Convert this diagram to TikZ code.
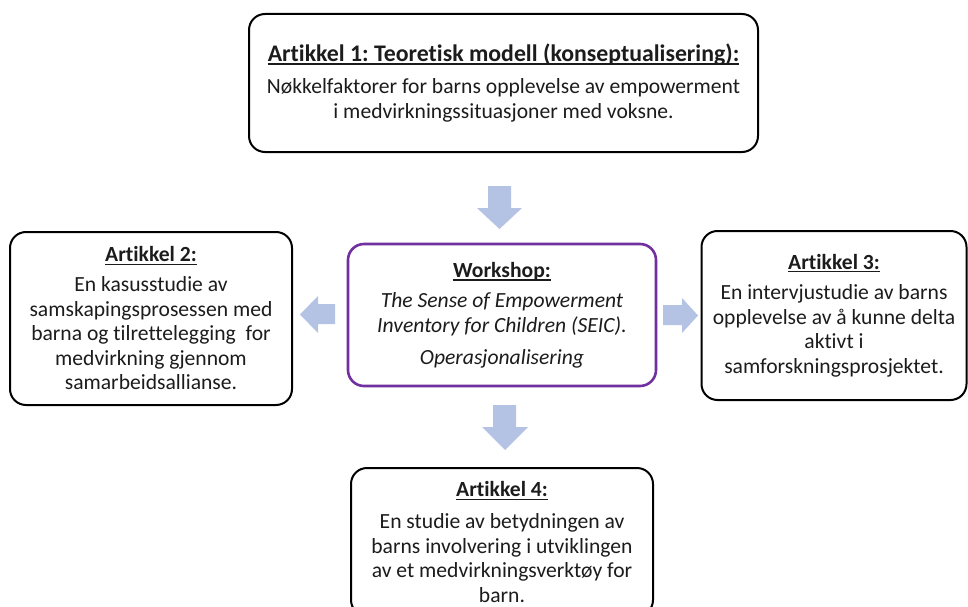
\documentclass[tikz,border=0pt]{standalone}
\usepackage{fontspec}
\setmainfont{Carlito}[Ligatures=NoCommon]
\frenchspacing
\definecolor{arrowblue}{RGB}{180,194,228}
\definecolor{wspurple}{RGB}{112,48,160}
\definecolor{bodytext}{RGB}{28,28,28}
% bold heading with a firm underline just below the baseline
\newsavebox\headbox
\newcommand\ulhead[1]{\sbox\headbox{\textbf{#1}}%
  \rlap{\rule[-3.4pt]{\wd\headbox}{1.7pt}}\usebox\headbox}
\begin{document}
\begin{tikzpicture}[x=1pt,y=-1pt,
  card/.style={draw=black, line width=2pt, rounded corners=16pt, fill=white,
    inner sep=0pt, align=center, text=bodytext,
    font=\fontsize{21.6}{24.6}\selectfont},
  wscard/.style={card, draw=wspurple, line width=2.6pt},
  blockarrow/.style={fill=arrowblue, draw=none}]
\useasboundingbox (0,0) rectangle (968,607);
\fill[white] (0,0) rectangle (968,607);

% article and workshop boxes
\node[card, minimum width=509pt, minimum height=138pt] (a1) at (503.5,83)
  {{\fontsize{23.8}{26}\selectfont\ulhead{Artikkel 1: Teoretisk modell (konseptualisering):}}\\[8pt]
   Nøkkelfaktorer for barns opplevelse av empowerment\\
   i medvirkningssituasjoner med voksne.};
\node[card, minimum width=282pt, minimum height=173pt] (a2) at (151,318.5)
  {\ulhead{Artikkel 2:}\\[5pt]
   En kasusstudie av\\
   samskapingsprosessen med\\
   barna og tilrettelegging\ \ for\\
   medvirkning gjennom\\
   samarbeidsallianse.};
\node[wscard, minimum width=308pt, minimum height=142pt] (ws) at (502,315)
  {\ulhead{Workshop:}\\[6pt]
   \textit{The Sense of Empowerment}\\
   \textit{Inventory for Children (SEIC).}\\[7pt]
   \textit{Operasjonalisering}};
\node[card, minimum width=265pt, minimum height=169pt] (a3) at (834,315.5)
  {\ulhead{Artikkel 3:}\\[6pt]
   En intervjustudie av barns\\
   opplevelse av å kunne delta\\
   aktivt i\\
   samforskningsprosjektet.};
\node[card, minimum width=302pt, minimum height=148pt] (a4) at (502,542)
  {\ulhead{Artikkel 4:}\\[7pt]
   En studie av betydningen av\\
   barns involvering i utviklingen\\
   av et medvirkningsverktøy for\\
   barn.};

% block arrows between the boxes
\fill[blockarrow] (488,186) -- (511,186) -- (511,208) -- (522,208) -- (499.5,229)
  -- (477,208) -- (488,208) -- cycle;
\fill[blockarrow] (335,304) -- (318,304) -- (318,296) -- (300,314.5) -- (318,333)
  -- (318,324) -- (335,324) -- cycle;
\fill[blockarrow] (663,305) -- (682,305) -- (682,298) -- (698,315.5) -- (682,333)
  -- (682,325) -- (663,325) -- cycle;
\fill[blockarrow] (493,405) -- (516,405) -- (516,427) -- (528,427) -- (505,450)
  -- (482,427) -- (493,427) -- cycle;
\end{tikzpicture}
\end{document}
